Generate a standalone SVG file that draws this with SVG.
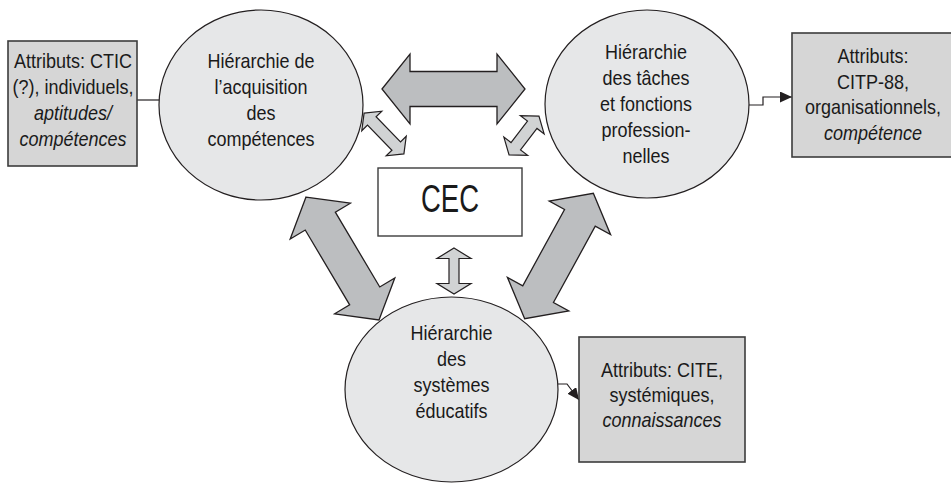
<svg xmlns="http://www.w3.org/2000/svg" width="951" height="483" viewBox="0 0 951 483">
  <style>
    text { font-family: "Liberation Sans", Arial, sans-serif; font-size: 20px; fill: #1a1a1a; text-anchor: middle; }
    .it { font-style: italic; }
    .circle { fill: #e6e7e8; stroke: #231f20; stroke-width: 1.2; }
    .box { fill: #d6d6d6; stroke: #3c3c3c; stroke-width: 1.6; }
    .cec { fill: #ffffff; stroke: #3c3c3c; stroke-width: 1.4; }
    .big { fill: #bcbec0; stroke: #231f20; stroke-width: 1.3; stroke-linejoin: miter; }
    .small { fill: #d1d3d4; stroke: #231f20; stroke-width: 1.2; }
    .line { fill: none; stroke: #231f20; stroke-width: 1.2; }
  </style>
  <defs>
    <path id="bigArrow" d="M-71.5,0 L-43.5,-35 L-43.5,-17.5 L43.5,-17.5 L43.5,-35 L71.5,0 L43.5,35 L43.5,17.5 L-43.5,17.5 L-43.5,35 Z"/>
    <marker id="head" markerUnits="userSpaceOnUse" markerWidth="12" markerHeight="11" viewBox="0 0 12 11" refX="12" refY="5.5" orient="auto">
      <path d="M0,0 L12,5.5 L0,11 Z" fill="#231f20"/>
    </marker>
  </defs>

  <g id="connectors">
    <use href="#bigArrow" class="big" transform="translate(453.5,89)"/>
    <use href="#bigArrow" class="big" transform="translate(342.5,258.5) rotate(59.3)"/>
    <use href="#bigArrow" class="big" transform="translate(559,256) rotate(-61.3)"/>
    <path class="small" transform="translate(384,133.5) rotate(45.7)" d="M-28.5,0 L-17.5,-14 L-17.5,-6 L17.5,-6 L17.5,-14 L28.5,0 L17.5,14 L17.5,6 L-17.5,6 L-17.5,14 Z"/>
    <path class="small" transform="translate(524,135.5) rotate(-52.4)" d="M-24.5,0 L-13.5,-15 L-13.5,-6 L13.5,-6 L13.5,-15 L24.5,0 L13.5,15 L13.5,6 L-13.5,6 L-13.5,15 Z"/>
    <path class="small" transform="translate(454,271) rotate(90)" d="M-23,0 L-12.5,-17 L-12.5,-5 L12.5,-5 L12.5,-17 L23,0 L12.5,17 L12.5,5 L-12.5,5 L-12.5,17 Z"/>
    <path class="line" d="M137,100 H159"/>
    <path class="line" d="M749,105 H763 V97 H792" marker-end="url(#head)"/>
    <path class="line" d="M558,384 H567 L579,400" marker-end="url(#head)"/>
  </g>

  <g id="box-left">
    <rect class="box" x="8" y="41" width="129" height="125"/>
    <g transform="translate(73,0) scale(0.9,1)">
      <text x="0" y="68">Attributs: CTIC</text>
      <text x="0" y="94">(?), individuels,</text>
      <text x="0" y="120" class="it">aptitudes/</text>
      <text x="0" y="146" class="it">compétences</text>
    </g>
  </g>

  <g id="circle-acquisition">
    <ellipse class="circle" cx="261" cy="105" rx="102" ry="95"/>
    <g transform="translate(261,0) scale(0.9,1)">
      <text x="0" y="68">Hiérarchie de</text>
      <text x="0" y="94">l’acquisition</text>
      <text x="0" y="120">des</text>
      <text x="0" y="146">compétences</text>
    </g>
  </g>

  <g id="circle-taches">
    <ellipse class="circle" cx="647" cy="104" rx="102" ry="94"/>
    <g transform="translate(646,0) scale(0.9,1)">
      <text x="0" y="59">Hiérarchie</text>
      <text x="0" y="85">des tâches</text>
      <text x="0" y="111">et fonctions</text>
      <text x="0" y="137">profession-</text>
      <text x="0" y="163">nelles</text>
    </g>
  </g>

  <g id="box-right">
    <rect class="box" x="792" y="33" width="170" height="124"/>
    <g transform="translate(873,0) scale(0.9,1)">
      <text x="0" y="63">Attributs:</text>
      <text x="0" y="89">CITP-88,</text>
      <text x="0" y="114">organisationnels,</text>
      <text x="0" y="140" class="it">compétence</text>
    </g>
  </g>

  <g id="cec">
    <rect class="cec" x="378" y="168" width="144" height="68"/>
    <text x="450" y="212" style="font-size:39px" textLength="58" lengthAdjust="spacingAndGlyphs">CEC</text>
  </g>

  <g id="circle-systemes">
    <ellipse class="circle" cx="451.5" cy="389.5" rx="106.5" ry="92.5"/>
    <g transform="translate(451.5,0) scale(0.9,1)">
      <text x="0" y="340">Hiérarchie</text>
      <text x="0" y="366">des</text>
      <text x="0" y="392">systèmes</text>
      <text x="0" y="418">éducatifs</text>
    </g>
  </g>

  <g id="box-bottom">
    <rect class="box" x="579" y="337" width="166" height="125"/>
    <g transform="translate(662,0) scale(0.9,1)">
      <text x="0" y="377">Attributs: CITE,</text>
      <text x="0" y="402">systémiques,</text>
      <text x="0" y="427" class="it">connaissances</text>
    </g>
  </g>
</svg>
